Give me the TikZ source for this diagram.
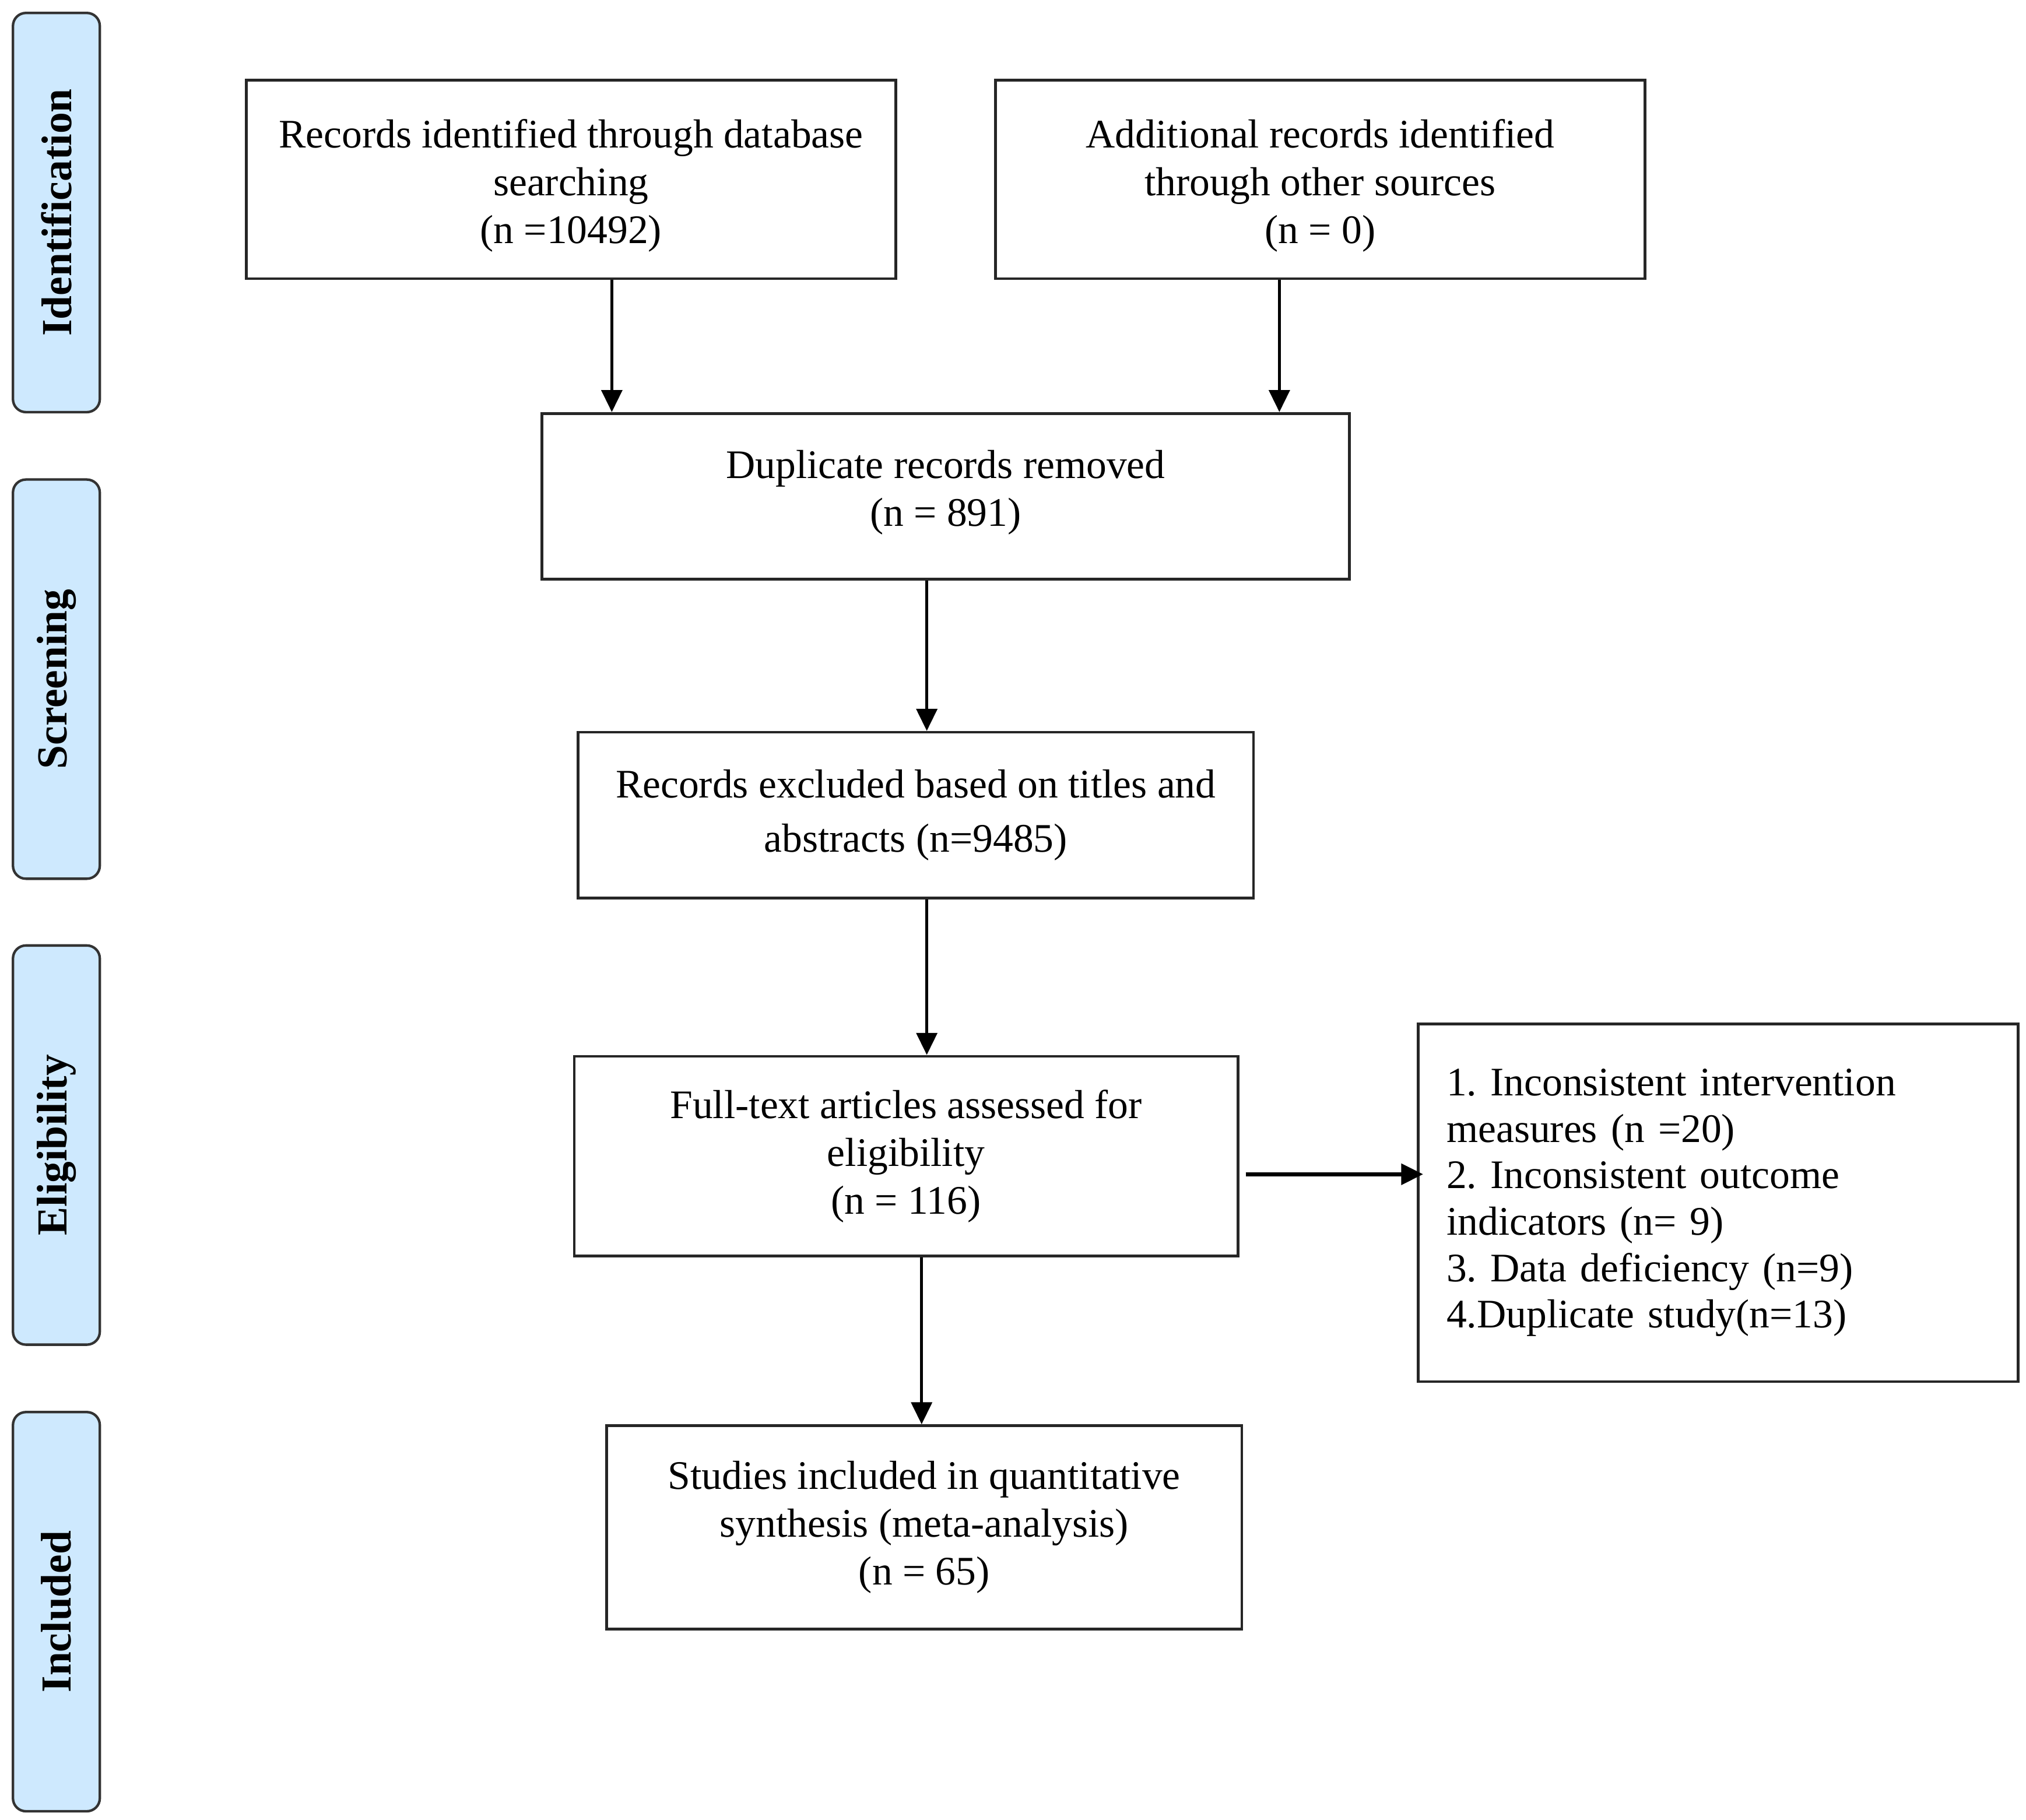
\documentclass[tikz,border=0pt]{standalone}
\usepackage{fontspec}
\setmainfont{Liberation Serif}
\usepackage{tikz}
\usetikzlibrary{arrows.meta}
\usetikzlibrary{calc}

\definecolor{bandblue}{RGB}{206,233,254}

\tikzset{
  box/.style={draw=black!85, line width=0.6pt, fill=white, inner sep=0pt,
    align=center, font=\fontsize{8.9}{10.5}\selectfont},
  band/.style={draw=black!80, line width=0.55pt, fill=bandblue, rounded corners=1mm,
    rotate=90, minimum width=3.08cm, minimum height=0.67cm, inner sep=0pt,
    font=\fontsize{9.4}{11}\selectfont\bfseries},
  arrow/.style={line width=0.65pt, -{Triangle[length=1.7mm,width=1.6mm]}}
}

\begin{document}
\begin{tikzpicture}
  \useasboundingbox (0,0) rectangle (15.63,-14.04);

  % Phase bands
  \node[band] (ident) at (0.435,-1.64) {Identification};
  \node[band] (screen) at (0.435,-5.24) {Screening};
  \node[band] (elig) at (0.435,-8.835) {Eligibility};
  \node[band] (incl) at (0.435,-12.435) {Included};

  % Boxes
  \node[box, minimum width=5.01cm, minimum height=1.53cm] (database) at (4.405,-1.385)
    {Records identified through database\\searching\\(n =10492)\\[-11.4pt]};
  \node[box, minimum width=5.01cm, minimum height=1.53cm] (other) at (10.185,-1.385)
    {Additional records identified\\through other sources\\(n = 0)\\[-11.4pt]};
  \node[box, minimum width=6.23cm, minimum height=1.28cm] (duplicate) at (7.295,-3.83)
    {Duplicate records removed\\(n = 891)\\[-7pt]};
  \node[box, minimum width=5.21cm, minimum height=1.28cm,
    font=\fontsize{8.9}{11.9}\selectfont] (excluded) at (7.065,-6.29)
    {Records excluded based on titles and\\abstracts (n=9485)};
  \node[box, minimum width=5.12cm, minimum height=1.54cm] (fulltext) at (6.99,-8.92)
    {Full-text articles assessed for\\eligibility\\(n = 116)};
  \node[box, align=left, text width=4.19cm, inner xsep=0.22cm,
    minimum height=2.76cm, font=\fontsize{8.9}{10.2}\selectfont\frenchspacing] (reasons) at (13.255,-9.28)
    {1. Inconsistent intervention\\measures (n =20)\\2. Inconsistent outcome\\indicators (n= 9)\\3. Data deficiency (n=9)\\4.Duplicate study(n=13)};
  \node[box, minimum width=4.90cm, minimum height=1.57cm] (studies) at (7.13,-11.785)
    {Studies included in quantitative\\synthesis (meta-analysis)\\(n = 65)};

  % Connectors
  \draw[arrow] ([xshift=0.315cm]database.south) -- ([xshift=0.315cm]database.south |- duplicate.north);
  \draw[arrow] ([xshift=-0.315cm]other.south) -- ([xshift=-0.315cm]other.south |- duplicate.north);
  \draw[arrow] ([xshift=-0.145cm]duplicate.south) -- ([xshift=-0.145cm]duplicate.south |- excluded.north);
  \draw[arrow] ([xshift=0.085cm]excluded.south) -- ([xshift=0.085cm]excluded.south |- fulltext.north);
  \draw[arrow] ([xshift=0.12cm]fulltext.south) -- ([xshift=0.12cm]fulltext.south |- studies.north);
  \draw[arrow, line width=0.85pt] ([shift={(0.05,-0.14)}]fulltext.east) -- ([shift={(0.05,-0.14)}]fulltext.east -| reasons.west);
\end{tikzpicture}
\end{document}
